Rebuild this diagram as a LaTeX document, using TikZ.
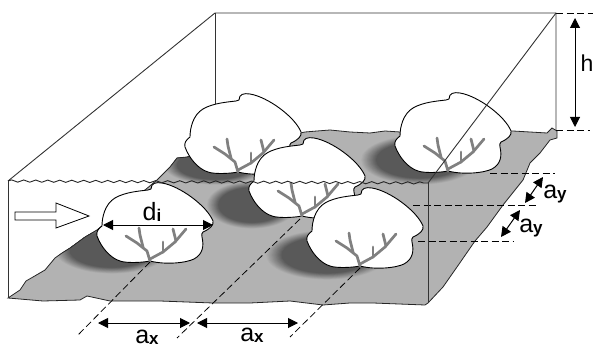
\documentclass[tikz,border=0pt]{standalone}
\usepackage{fontspec}
\setmainfont{Liberation Sans}
\usetikzlibrary{arrows.meta,decorations.pathmorphing}
\definecolor{floorgray}{gray}{0.70}
\definecolor{shadowgray}{gray}{0.35}
\definecolor{branchgray}{gray}{0.5}
\newcommand{\softshadow}[4]{%
  \foreach \i in {0,...,14}{%
    \pgfmathsetmacro{\mixp}{\i*100/14}
    \pgfmathsetmacro{\scl}{1-0.019*\i}
    \fill[color=shadowgray!\mixp!floorgray] (#1,#2) ellipse [x radius={#3*\scl*1pt}, y radius={#4*\scl*1pt}];
  }%
}
\newcommand{\subfont}[1]{{\fontsize{17}{17}\selectfont\bfseries\raisebox{-1.5pt}{#1}}}
\newcommand{\dimlabel}[1]{a\subfont{#1}}
\tikzset{
  x=1pt,y=-1pt,
  boxline/.style={draw=black!80,line width=0.9pt},
  waveline/.style={draw=black!85,line width=0.9pt,decorate,decoration={snake,amplitude=1.1pt,segment length=12pt}},
  dashline/.style={draw=black,line width=0.75pt,dash pattern=on 7pt off 3.5pt},
  dimarrow/.style={draw=black,line width=1pt,{Triangle[length=10pt,width=10pt]}-{Triangle[length=10pt,width=10pt]}},
  lab/.style={inner sep=0pt,font=\fontsize{25}{25}\selectfont},
  branch/.style={branchgray,line width=2.7pt,line join=round,line cap=round},
  tree/.pic={
    \draw[fill=white,draw=black,line width=0.9pt]
      (1,-73) .. controls (1,-79) and (6,-80) .. (12,-79)
      .. controls (30,-76) and (57,-56) .. (63,-41)
      .. controls (64,-37) and (60,-33) .. (53,-30)
      .. controls (51,-29) and (52,-27) .. (52,-25)
      .. controls (54,-16) and (53,-8) .. (44,-3)
      .. controls (36,1) and (15,3) .. (0,-1)
      .. controls (-10,1) and (-25,1) .. (-30,-1)
      .. controls (-40,-4) and (-49,-15) .. (-53,-26)
      .. controls (-54,-30) and (-52,-33) .. (-48,-36)
      .. controls (-48,-45) and (-45,-58) .. (-35,-64)
      .. controls (-25,-70) and (-10,-71) .. (-2,-72)
      .. controls (-1,-72) and (0,-72) .. (1,-73) -- cycle;
    \draw[branch] (0,-1) -- (-3,-11) -- (-13,-19) -- (-24,-26);
    \draw[branch] (-7,-15) -- (-10,-27) -- (-11,-34);
    \draw[branch] (0,-3) -- (13,-10) -- (25,-20) -- (36,-33);
    \draw[branch] (13,-10) -- (13,-20);
    \draw[branch] (26,-21) -- (23,-33);
  }
}
\begin{document}
\begin{tikzpicture}
\useasboundingbox (0,0) rectangle (593,347);
\clip (0,0) rectangle (593,347);
% coordinates
\coordinate (fl) at (8,181);
\coordinate (fr) at (428,183);
\coordinate (fbl) at (8,298);
\coordinate (fbr) at (428,303);
\coordinate (bl) at (215,13);
\coordinate (br) at (556,13);
\coordinate (brb) at (556,130);
\coordinate (blb) at (215,105);
% back of box
\draw[boxline] (fl) -- (bl) -- (br) -- (brb);
\draw[boxline] (bl) -- (blb);
% floor
\def\floorpath{(8,298) -- (20,290) -- (26,281) -- (33,277) -- (45,270) -- (55,258) -- (62,253) -- (70,248) -- (85,237) -- (97,230) -- (157,180) -- (170,167) -- (177,158) -- (187,157) -- (305,132) -- (317,131) -- (330,130) -- (350,132) -- (370,133) -- (385,131) -- (400,132) -- (513,131) -- (530,132) -- (547,133) -- (552,128) -- (557,131) -- (557,138) -- (550,140) -- (540,153) -- (530,163) -- (523,180) -- (503,205) -- (487,227) -- (475,241) -- (457,267) -- (443,287) -- (428,303) -- (425,305) -- (373,303) -- (350,303) -- (323,305) -- (290,301) -- (250,303) -- (213,303) -- (160,301) -- (110,301) -- (87,296) -- (80,300) -- (43,301) -- cycle}
\fill[floorgray] \floorpath;
\begin{scope}
  \clip \floorpath;
  \softshadow{215}{165}{52}{20}
  \softshadow{420}{160}{60}{25}
  \softshadow{252}{205}{46}{24}
  \softshadow{112}{250}{58}{24}
  \softshadow{327}{255}{62}{25}
\end{scope}
\draw[draw=black!85,line width=0.8pt] \floorpath;
% trees back to front
\pic at (238,173) {tree};
\pic at (448,172) {tree};
\pic at (302,217) {tree};
\pic at (150,262) {tree};
\pic at (360,267) {tree};
% dashed guide lines
\coordinate (gfl) at (150,262);
\coordinate (gfle) at (78,335);
\coordinate (gc) at (300,219);
\coordinate (gce) at (177,338);
\coordinate (gf) at (360,268);
\coordinate (gfe) at (290,337);
\draw[dashline] (gfl) -- (gfle);
\draw[dashline] (gc) -- (gce);
\draw[dashline] (gf) -- (gfe);
\coordinate (h1a) at (490,173); \coordinate (h1b) at (555,173);
\coordinate (h2a) at (413,205); \coordinate (h2b) at (537,205);
\coordinate (h3a) at (418,241); \coordinate (h3b) at (513,241);
\coordinate (h4b) at (593,13);
\coordinate (h5b) at (590,130);
\draw[dashline] (h1a) -- (h1b);
\draw[dashline] (h2a) -- (h2b);
\draw[dashline] (h3a) -- (h3b);
\draw[dashline] (br) -- (h4b);
\draw[dashline] (brb) -- (h5b);
% front of box
\draw[waveline] (fl) -- (fr);
\draw[boxline] (fl) -- (fbl);
\draw[boxline] (fr) -- (br);
\draw[boxline] (fr) -- (fbr);
% flow arrow
\draw[draw=black,fill=white,line width=0.8pt] (15,212) -- (56,212) -- (56,203) -- (89,216) -- (56,228) -- (56,220) -- (15,220) -- cycle;
% dimension arrows
\coordinate (da) at (103,225); \coordinate (db) at (213,225);
\draw[dimarrow] (da) -- (db);
\coordinate (ax1a) at (98,323); \coordinate (ax1b) at (190,323);
\coordinate (ax2a) at (197,323); \coordinate (ax2b) at (298,323);
\draw[dimarrow] (ax1a) -- (ax1b);
\draw[dimarrow] (ax2a) -- (ax2b);
\coordinate (ay1a) at (543,177); \coordinate (ay1b) at (525,203);
\coordinate (ay2a) at (520,210); \coordinate (ay2b) at (501,237);
\draw[dimarrow] (ay1a) -- (ay1b);
\draw[dimarrow] (ay2a) -- (ay2b);
\coordinate (ha) at (575,18); \coordinate (hb) at (575,127);
\draw[dimarrow] (ha) -- (hb);
% labels
\node[lab,anchor=base west,font=\fontsize{23}{23}\selectfont] (lh) at (580.5,72) {h};
\node[lab,anchor=base] (ld) at (152,220) {d\subfont{i}};
\node[lab,anchor=base] (lax1) at (147,343) {\dimlabel{x}};
\node[lab,anchor=base] (lax2) at (252,341) {\dimlabel{x}};
\node[lab,anchor=base] (lay1) at (555,198) {\dimlabel{y}};
\node[lab,anchor=base] (lay2) at (531,232) {\dimlabel{y}};
\end{tikzpicture}
\end{document}
